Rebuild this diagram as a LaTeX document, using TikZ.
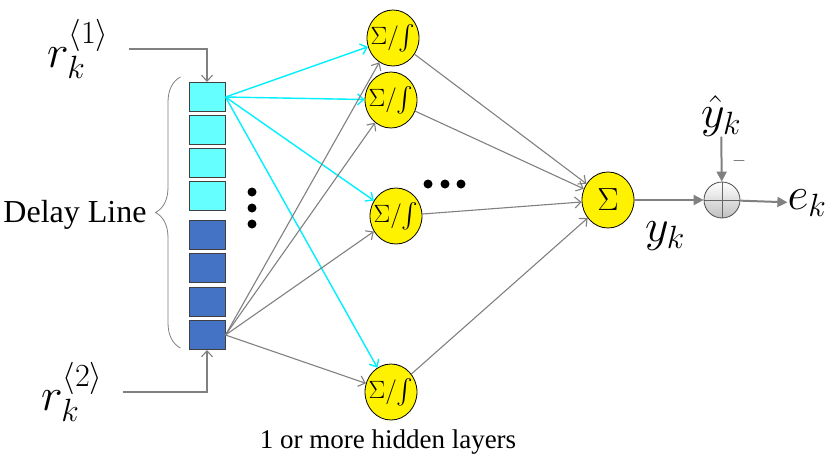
\RequirePackage{fix-cm}
\documentclass[tikz,border=0pt]{standalone}
\usepackage{amsmath}
\usepackage{fontspec}
\setmainfont{Liberation Serif}
\usetikzlibrary{shapes.geometric,decorations.pathreplacing,arrows.meta}
\definecolor{lcyan}{RGB}{102,255,255}
\definecolor{dblue}{RGB}{68,114,196}
\definecolor{aqua}{RGB}{0,240,255}

\begin{document}
\begin{tikzpicture}[x=1pt,y=-1pt,
  cell/.style={draw=black!75,line width=1pt,minimum width=36pt,minimum height=29pt,inner sep=0pt},
  neuron/.style={ellipse,draw,fill=yellow,line width=0.8pt,minimum width=52pt,minimum height=56pt,inner sep=0pt,font=\fontsize{25}{27}\selectfont},
  lbl/.style={font=\fontsize{46}{50}\selectfont,inner sep=0pt},
  txt/.style={font=\fontsize{27}{30}\selectfont,inner sep=0pt},
  wire/.style={draw=gray,line width=1.1pt,-{Straight Barb[length=6pt,width=11pt]}},
  cwire/.style={wire,draw=aqua,line width=1.4pt},
  bold/.style={draw=gray,line width=2pt,-{Triangle[length=10pt,width=10pt]}}]
\useasboundingbox (0,0) rectangle (830,467);

% delay line
\node[cell,fill=lcyan] (b1) at (207,97) {};
\node[cell,fill=lcyan] (b2) at (207,130) {};
\node[cell,fill=lcyan] (b3) at (207,163) {};
\node[cell,fill=lcyan] (b4) at (207,196) {};
\node[cell,fill=dblue] (b5) at (207,235) {};
\node[cell,fill=dblue] (b6) at (207,268) {};
\node[cell,fill=dblue] (b7) at (207,302) {};
\node[cell,fill=dblue] (b8) at (207,335) {};
\draw[gray,line width=0.8pt,decorate,decoration={brace,amplitude=25pt}]
  ([xshift=-8pt,yshift=2pt]b8.south west) -- ([xshift=-8pt,yshift=5pt]b1.north west);
\node[txt,font=\fontsize{32}{34}\selectfont] (dl) at (75,215) {Delay Line};
\fill (252,192) circle (4.5); \fill (252,208) circle (4.5); \fill (252,224) circle (4.5);

% inputs
\node[lbl] (r1) at (78,49) {$r_k^{\langle 1\rangle}$};
\node[lbl] (r2) at (72,392) {$r_k^{\langle 2\rangle}$};
\draw[wire,shorten <=20pt] (r1.east) -| (b1.north);
\draw[wire,shorten <=20pt] (r2.east) -| (b8.south);

% hidden layer
\node[neuron] (n1) at (393,38) {\makebox[0pt]{$\Sigma/\!\int$}};
\node[neuron] (n2) at (391,100) {\makebox[0pt]{$\Sigma/\!\int$}};
\node[neuron] (n3) at (396,216) {\makebox[0pt]{$\Sigma/\!\int$}};
\node[neuron] (n4) at (391,392) {\makebox[0pt]{$\Sigma/\!\int$}};
\fill (428,184) circle (4.5); \fill (445,184) circle (4.5); \fill (461,184) circle (4.5);
\node[txt] (hl) at (388,442) {1 or more hidden layers};

\draw[cwire] (b1.east) -- (n1); \draw[cwire] (b1.east) -- (n2);
\draw[cwire] (b1.east) -- (n3); \draw[cwire] (b1.east) -- (n4);
\draw[wire] (b8.east) -- (n1); \draw[wire] (b8.east) -- (n2);
\draw[wire] (b8.east) -- (n3); \draw[wire] (b8.east) -- (n4);

% output
\node[neuron,font=\fontsize{32}{34}\selectfont] (out) at (608,200) {\makebox[0pt]{$\Sigma$}};
\draw[wire] (n1) -- (out); \draw[wire] (n2) -- (out);
\draw[wire] (n3) -- (out); \draw[wire] (n4) -- (out);
\node[circle,draw=black!70,line width=0.8pt,minimum size=36pt,inner sep=0pt,top color=white,bottom color=black!25,
  path picture={\draw[black!60,line width=0.8pt] (path picture bounding box.north) -- (path picture bounding box.south)
  (path picture bounding box.west) -- (path picture bounding box.east);}] (sj) at (722,200) {};
\node[lbl] (yh) at (721,116) {$\hat{y}_k$};
\node[lbl] (yk) at (665,236) {$y_k$};
\node[lbl] (ek) at (807,203) {$e_k$};
\node[font=\fontsize{18}{20}\selectfont,text=black!70,inner sep=0pt] (mn) at (739,161) {$-$};
\draw[bold] (out) -- (sj);
\draw[bold] (yh) -- (sj);
\draw[bold] (sj) -- (ek);
\end{tikzpicture}
\end{document}
